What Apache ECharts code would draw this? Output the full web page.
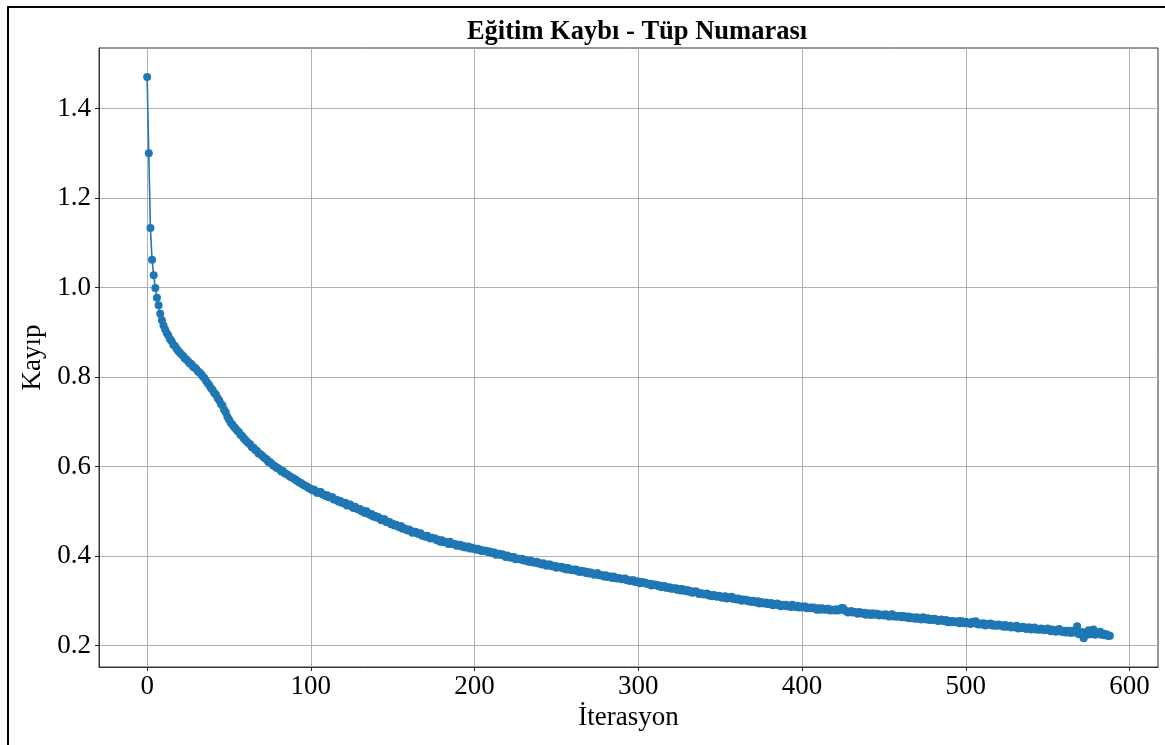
<!DOCTYPE html>
<html>
<head>
<meta charset="utf-8">
<script src="https://cdn.jsdelivr.net/npm/echarts@6/dist/echarts.min.js"></script>
<style>
  html, body { margin: 0; padding: 0; background: #fff; }
  #chart { width: 1165px; height: 745px; }
</style>
</head>
<body>
<div id="chart"></div>
<script>
// Training loss per iteration (index = iteration number)
const kayip = [
  1.470, 1.300, 1.133, 1.062, 1.027, 0.999, 0.977, 0.960, 0.941, 0.927,
  0.915, 0.906, 0.898, 0.892, 0.884, 0.880, 0.872, 0.869, 0.863, 0.858,
  0.854, 0.850, 0.847, 0.841, 0.839, 0.835, 0.830, 0.829, 0.823, 0.821,
  0.818, 0.812, 0.810, 0.806, 0.801, 0.797, 0.791, 0.786, 0.781, 0.775,
  0.771, 0.764, 0.761, 0.753, 0.748, 0.740, 0.736, 0.727, 0.721, 0.711,
  0.705, 0.698, 0.694, 0.689, 0.685, 0.680, 0.677, 0.671, 0.668, 0.663,
  0.659, 0.655, 0.652, 0.649, 0.643, 0.642, 0.637, 0.635, 0.629, 0.628,
  0.625, 0.621, 0.618, 0.616, 0.610, 0.610, 0.606, 0.602, 0.601, 0.597,
  0.596, 0.593, 0.589, 0.590, 0.585, 0.583, 0.581, 0.578, 0.576, 0.574,
  0.572, 0.569, 0.567, 0.564, 0.563, 0.560, 0.558, 0.556, 0.554, 0.551,
  0.550, 0.547, 0.548, 0.544, 0.541, 0.543, 0.543, 0.538, 0.537, 0.534,
  0.536, 0.531, 0.531, 0.532, 0.526, 0.526, 0.525, 0.521, 0.523, 0.519,
  0.518, 0.519, 0.513, 0.515, 0.515, 0.510, 0.507, 0.510, 0.506, 0.504,
  0.505, 0.500, 0.501, 0.496, 0.500, 0.495, 0.492, 0.494, 0.488, 0.490,
  0.486, 0.487, 0.484, 0.480, 0.482, 0.482, 0.476, 0.476, 0.476, 0.471,
  0.472, 0.468, 0.470, 0.467, 0.464, 0.467, 0.461, 0.462, 0.460, 0.457,
  0.459, 0.456, 0.452, 0.454, 0.454, 0.450, 0.449, 0.451, 0.445, 0.445,
  0.443, 0.445, 0.442, 0.439, 0.441, 0.439, 0.439, 0.435, 0.436, 0.432,
  0.435, 0.431, 0.432, 0.430, 0.427, 0.432, 0.427, 0.427, 0.427, 0.423,
  0.424, 0.425, 0.421, 0.423, 0.419, 0.420, 0.421, 0.417, 0.419, 0.416,
  0.417, 0.414, 0.416, 0.414, 0.411, 0.413, 0.411, 0.412, 0.409, 0.410,
  0.407, 0.408, 0.408, 0.403, 0.404, 0.405, 0.402, 0.404, 0.401, 0.398,
  0.401, 0.398, 0.396, 0.398, 0.398, 0.393, 0.394, 0.394, 0.392, 0.394,
  0.390, 0.391, 0.389, 0.387, 0.390, 0.386, 0.387, 0.385, 0.387, 0.383,
  0.384, 0.381, 0.384, 0.381, 0.378, 0.381, 0.381, 0.377, 0.377, 0.378,
  0.374, 0.376, 0.375, 0.376, 0.372, 0.374, 0.370, 0.373, 0.370, 0.369,
  0.370, 0.368, 0.370, 0.366, 0.364, 0.367, 0.365, 0.366, 0.362, 0.364,
  0.361, 0.363, 0.361, 0.358, 0.360, 0.362, 0.357, 0.357, 0.357, 0.354,
  0.357, 0.353, 0.354, 0.354, 0.351, 0.354, 0.351, 0.350, 0.351, 0.350,
  0.348, 0.349, 0.350, 0.346, 0.346, 0.344, 0.346, 0.346, 0.342, 0.343,
  0.343, 0.339, 0.342, 0.340, 0.341, 0.338, 0.338, 0.338, 0.334, 0.337,
  0.335, 0.336, 0.333, 0.334, 0.330, 0.332, 0.333, 0.329, 0.329, 0.330,
  0.327, 0.328, 0.327, 0.328, 0.324, 0.326, 0.323, 0.326, 0.323, 0.322,
  0.324, 0.320, 0.322, 0.318, 0.319, 0.321, 0.319, 0.315, 0.317, 0.316,
  0.314, 0.315, 0.316, 0.312, 0.313, 0.310, 0.313, 0.311, 0.309, 0.311,
  0.310, 0.307, 0.308, 0.310, 0.305, 0.308, 0.306, 0.309, 0.304, 0.305,
  0.303, 0.305, 0.303, 0.300, 0.303, 0.301, 0.302, 0.299, 0.300, 0.297,
  0.300, 0.298, 0.296, 0.299, 0.294, 0.297, 0.295, 0.294, 0.296, 0.293,
  0.293, 0.295, 0.290, 0.293, 0.291, 0.294, 0.290, 0.288, 0.291, 0.289,
  0.291, 0.288, 0.289, 0.286, 0.291, 0.288, 0.286, 0.289, 0.285, 0.287,
  0.285, 0.287, 0.287, 0.283, 0.284, 0.285, 0.283, 0.285, 0.283, 0.280,
  0.283, 0.280, 0.283, 0.281, 0.280, 0.282, 0.282, 0.278, 0.280, 0.280,
  0.278, 0.281, 0.278, 0.280, 0.283, 0.284, 0.278, 0.277, 0.274, 0.275,
  0.277, 0.274, 0.275, 0.274, 0.271, 0.275, 0.273, 0.271, 0.273, 0.269,
  0.272, 0.271, 0.268, 0.272, 0.269, 0.271, 0.271, 0.267, 0.269, 0.269,
  0.267, 0.270, 0.267, 0.265, 0.268, 0.270, 0.265, 0.266, 0.264, 0.266,
  0.266, 0.263, 0.266, 0.264, 0.262, 0.265, 0.261, 0.263, 0.262, 0.260,
  0.263, 0.260, 0.261, 0.258, 0.263, 0.260, 0.258, 0.261, 0.257, 0.259,
  0.257, 0.260, 0.257, 0.255, 0.257, 0.258, 0.255, 0.255, 0.257, 0.252,
  0.255, 0.252, 0.255, 0.253, 0.252, 0.254, 0.250, 0.255, 0.252, 0.250,
  0.253, 0.250, 0.250, 0.248, 0.253, 0.251, 0.254, 0.248, 0.247, 0.249,
  0.247, 0.250, 0.245, 0.248, 0.247, 0.249, 0.245, 0.247, 0.244, 0.245,
  0.247, 0.244, 0.245, 0.242, 0.246, 0.242, 0.243, 0.244, 0.240, 0.242,
  0.241, 0.244, 0.238, 0.241, 0.239, 0.242, 0.239, 0.237, 0.240, 0.240,
  0.236, 0.239, 0.240, 0.236, 0.237, 0.235, 0.238, 0.237, 0.234, 0.235,
  0.238, 0.234, 0.232, 0.236, 0.234, 0.231, 0.234, 0.237, 0.232, 0.230,
  0.233, 0.229, 0.233, 0.231, 0.228, 0.233, 0.229, 0.231, 0.243, 0.225,
  0.226, 0.230, 0.216, 0.228, 0.224, 0.234, 0.225, 0.230, 0.236, 0.224,
  0.229, 0.226, 0.231, 0.224, 0.227, 0.223, 0.225, 0.221, 0.222
];

// Tick positions shown on each axis
const xTicks = [0, 100, 200, 300, 400, 500, 600];
const yTicks = [0.2, 0.4, 0.6, 0.8, 1.0, 1.2, 1.4];

const baslik = 'Eğitim Kaybı - Tüp Numarası';
const xAdi = 'İterasyon';
const yAdi = 'Kayıp';

const noktalar = kayip.map((v, i) => [i, v]);

const serif = 'Liberation Serif, Times New Roman, serif';
const tickColor = '#222';

const chart = echarts.init(document.getElementById('chart'), null, { renderer: 'canvas' });

chart.setOption({
  animation: false,
  backgroundColor: '#fff',
  graphic: [
    {
      type: 'rect',
      z: -10,
      silent: true,
      shape: { x: 8, y: 7, width: 1200, height: 800 },
      style: { fill: 'none', stroke: '#000', lineWidth: 2 }
    },
    {
      type: 'text',
      x: 637,
      y: 32,
      style: {
        text: baslik,
        font: 'bold 26.5px ' + serif,
        fill: '#000',
        align: 'center',
        verticalAlign: 'middle'
      }
    }
  ],
  grid: {
    left: 99,
    right: 7,
    top: 48,
    bottom: 78,
    show: true,
    borderColor: '#333',
    borderWidth: 1,
    backgroundColor: 'transparent'
  },
  xAxis: {
    type: 'value',
    min: -29.4,
    max: 617.4,
    name: xAdi,
    nameLocation: 'middle',
    nameGap: 36,
    nameTextStyle: { fontFamily: serif, fontSize: 27, color: '#000' },
    axisLine: { show: true, onZero: false, lineStyle: { color: '#333', width: 1 } },
    axisTick: { show: true, inside: false, length: 4, lineStyle: { color: tickColor }, customValues: xTicks },
    axisLabel: { fontFamily: serif, fontSize: 27, color: '#000', margin: 6, customValues: xTicks },
    splitLine: { show: true, lineStyle: { color: '#b0b0b0', width: 1 } }
  },
  yAxis: {
    type: 'value',
    min: 0.152,
    max: 1.535,
    name: yAdi,
    nameLocation: 'middle',
    nameGap: 50,
    nameTextStyle: { fontFamily: serif, fontSize: 27, color: '#000' },
    axisLine: { show: true, onZero: false, lineStyle: { color: '#333', width: 1 } },
    axisTick: { show: true, inside: false, length: 4, lineStyle: { color: tickColor }, customValues: yTicks },
    axisLabel: {
      fontFamily: serif, fontSize: 27, color: '#000', margin: 8,
      customValues: yTicks,
      formatter: v => v.toFixed(1)
    },
    splitLine: { show: true, lineStyle: { color: '#b0b0b0', width: 1 } }
  },
  series: [
    {
      type: 'line',
      data: noktalar,
      symbol: 'circle',
      symbolSize: 8,
      showSymbol: true,
      showAllSymbol: true,
      sampling: null,
      itemStyle: { color: '#1f77b4' },
      lineStyle: { color: '#1f77b4', width: 1.6 },
      emphasis: { disabled: true }
    }
  ]
});
</script>
</body>
</html>
